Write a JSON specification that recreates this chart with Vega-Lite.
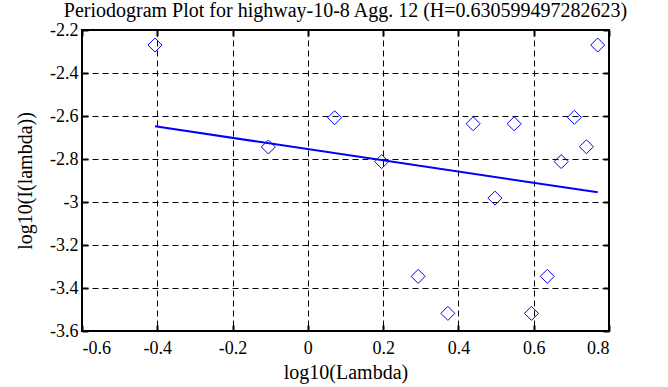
{
  "$schema": "https://vega.github.io/schema/vega-lite/v6.json",
  "width": 527,
  "height": 301,
  "autosize": "none",
  "padding": {"left": 82, "top": 30, "right": 58, "bottom": 56},
  "background": "white",
  "title": {
    "text": "Periodogram Plot for highway-10-8 Agg. 12 (H=0.630599497282623)",
    "font": "Liberation Serif",
    "fontSize": 20,
    "fontWeight": "normal",
    "color": "black",
    "anchor": "middle",
    "offset": 8,
    "dy": 8
  },
  "config": {
    "font": "Liberation Serif",
    "view": {"stroke": "black", "strokeWidth": 2},
    "axis": {
      "labelFont": "Liberation Serif",
      "labelFontSize": 18,
      "labelColor": "black",
      "titleFont": "Liberation Serif",
      "titleFontSize": 20,
      "titleFontWeight": "normal",
      "titleColor": "black",
      "domain": false,
      "tickColor": "black",
      "tickWidth": 2,
      "tickSize": -6,
      "gridColor": "black",
      "gridOpacity": 1,
      "gridWidth": 1,
      "gridDash": [6, 4]
    }
  },
  "resolve": {"axis": {"x": "independent", "y": "independent"}},
  "layer": [
    {
      "data": {
        "values": [
          {"x": -0.406, "y": -2.270},
          {"x": -0.105, "y": -2.744},
          {"x": 0.071, "y": -2.608},
          {"x": 0.196, "y": -2.812},
          {"x": 0.293, "y": -3.346},
          {"x": 0.372, "y": -3.518},
          {"x": 0.439, "y": -2.636},
          {"x": 0.497, "y": -2.982},
          {"x": 0.548, "y": -2.636},
          {"x": 0.594, "y": -3.518},
          {"x": 0.636, "y": -3.346},
          {"x": 0.673, "y": -2.812},
          {"x": 0.708, "y": -2.606},
          {"x": 0.740, "y": -2.743},
          {"x": 0.770, "y": -2.270}
        ]
      },
      "mark": {"type": "point", "shape": "diamond", "size": 196, "filled": false, "color": "#0000ff", "strokeWidth": 1, "opacity": 1},
      "encoding": {
        "x": {
          "field": "x", "type": "quantitative",
          "scale": {"domain": [-0.6, 0.8], "nice": false, "zero": false},
          "axis": {
            "title": "log10(Lambda)",
            "values": [-0.6, -0.4, -0.2, 0, 0.2, 0.4, 0.6, 0.8],
            "labelExpr": "toString(round(datum.value*10)/10)",
            "labelFont": "Liberation Serif",
            "labelFontSize": 18,
            "titleFont": "Liberation Serif",
            "grid": true,
            "labelPadding": 14,
            "titlePadding": 5
          }
        },
        "y": {
          "field": "y", "type": "quantitative",
          "scale": {"domain": [-3.6, -2.2], "nice": false, "zero": false},
          "axis": {
            "title": "log10(I(lambda))",
            "values": [-3.6, -3.4, -3.2, -3.0, -2.8, -2.6, -2.4, -2.2],
            "labelExpr": "toString(round(datum.value*10)/10)",
            "labelFont": "Liberation Serif",
            "labelFontSize": 18,
            "titleFont": "Liberation Serif",
            "grid": true,
            "labelPadding": 10,
            "titlePadding": 14
          }
        }
      }
    },
    {
      "data": {
        "values": [
          {"x": -0.406, "y": -2.648},
          {"x": 0.770, "y": -2.955}
        ]
      },
      "mark": {"type": "line", "color": "#0000ff", "strokeWidth": 2},
      "encoding": {
        "x": {
          "field": "x", "type": "quantitative",
          "scale": {"domain": [-0.6, 0.8], "nice": false, "zero": false},
          "axis": {"orient": "top", "title": null, "labels": false, "grid": false,
                   "values": [-0.6, -0.4, -0.2, 0, 0.2, 0.4, 0.6, 0.8]}
        },
        "y": {
          "field": "y", "type": "quantitative",
          "scale": {"domain": [-3.6, -2.2], "nice": false, "zero": false},
          "axis": {"orient": "right", "title": null, "labels": false, "grid": false,
                   "values": [-3.6, -3.4, -3.2, -3.0, -2.8, -2.6, -2.4, -2.2]}
        }
      }
    }
  ]
}
